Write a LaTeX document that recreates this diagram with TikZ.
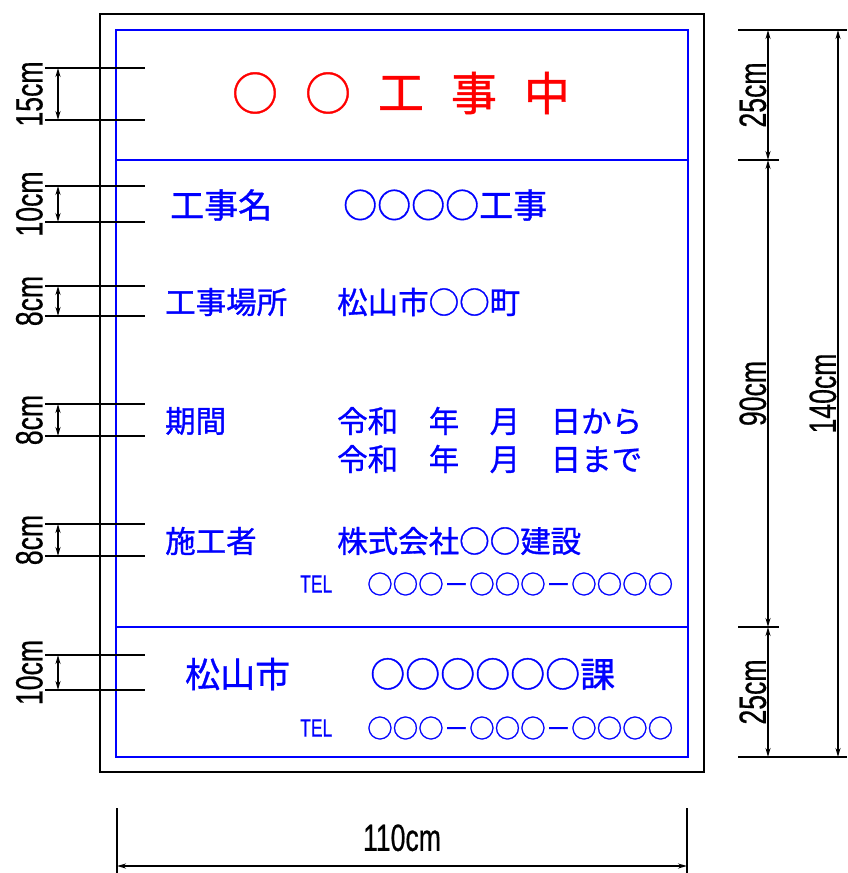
\documentclass[tikz,border=0pt]{standalone}
\usepackage{fontspec}
\usepackage{tikz}
\usetikzlibrary{arrows.meta}
\newfontfamily\jpfont[FakeBold=1]{Noto Sans CJK JP}
\newfontfamily\dimfont[FakeStretch=0.7, FakeBold=0.5]{Liberation Sans}
\tikzstyle{board} = [draw, line width=2pt]
\tikzstyle{panel} = [draw=blue, line width=1.5pt]
\tikzstyle{line} = [draw, line width=1.5pt]
\tikzstyle{dim} = [draw, line width=1.5pt, {Stealth[length=9pt,width=5pt]}-{Stealth[length=9pt,width=5pt]}]
\tikzstyle{dimlabel} = [font={\dimfont\fontsize{38}{38}\selectfont}, rotate=90, inner sep=1pt]
\tikzstyle{title} = [text=red, font={\jpfont\fontsize{46}{46}\selectfont}, inner sep=0pt]
\tikzstyle{signtext} = [text=blue, font=\jpfont, inner sep=0pt, anchor=west]
\tikzstyle{tel} = [text=blue, font={\dimfont\fontsize{25}{25}\selectfont}, inner sep=0pt, anchor=west]

\begin{document}
\begin{tikzpicture}[x=1pt, y=-1pt]
    \useasboundingbox (0,0) rectangle (847,873);
    % Board and panels
    \path [board] (100,14) rectangle (704,772);
    \path [panel] (116,30) rectangle (688,757);
    \path [panel] (116,160) -- (688,160);
    \path [panel] (116,627) -- (688,627);
    % Title
    \foreach \ch [count=\i from 0] in {○,○,工,事,中}
        \node [title] (title\i) at (255+73*\i,93) {\ch};
    % Sign texts
    \node [signtext, font={\jpfont\fontsize{34}{34}\selectfont}] at (170,205) (namekey) {工事名};
    \node [signtext, font={\jpfont\fontsize{34}{34}\selectfont}] at (343,205) (nameval) {○○○○工事};
    \node [signtext, font={\jpfont\fontsize{30.5}{30.5}\selectfont}] at (165,302) (placekey) {工事場所};
    \node [signtext, font={\jpfont\fontsize{30.5}{30.5}\selectfont}] at (337,302) (placeval) {松山市○○町};
    \node [signtext, font={\jpfont\fontsize{30.5}{30.5}\selectfont}] at (165,421) (termkey) {期間};
    \node [signtext, font={\jpfont\fontsize{30.5}{30.5}\selectfont}] at (337,421) (termfrom) {令和　年　月　日から};
    \node [signtext, font={\jpfont\fontsize{30.5}{30.5}\selectfont}] at (337,459) (termto) {令和　年　月　日まで};
    \node [signtext, font={\jpfont\fontsize{30.5}{30.5}\selectfont}] at (165,541) (makerkey) {施工者};
    \node [signtext, font={\jpfont\fontsize{30.5}{30.5}\selectfont}] at (337,541) (makerval) {株式会社○○建設};
    \node [tel] at (300,584) (makertel) {TEL};
    \node [signtext, font={\jpfont\fontsize{25.5}{25.5}\selectfont}] at (367,584) (makernum) {○○○－○○○－○○○○};
    \node [signtext, font={\jpfont\fontsize{35}{35}\selectfont}] at (185,674) (citykey) {松山市};
    \node [signtext, font={\jpfont\fontsize{35}{35}\selectfont}] at (370,674) (cityval) {○○○○○○課};
    \node [tel] at (300,728) (citytel) {TEL};
    \node [signtext, font={\jpfont\fontsize{25.5}{25.5}\selectfont}] at (367,728) (citynum) {○○○－○○○－○○○○};
    % Left dimensions
    \foreach \a/\b/\t/\n in {68/120/15cm/ha, 186/222/10cm/hb, 286/316/8cm/hc,
                             404/436/8cm/hd, 524/556/8cm/he, 655/690/10cm/hf} {
        \coordinate (\n top) at (58,\a);
        \coordinate (\n bot) at (58,\b);
        \path [line] (45,\a) -- (145,\a);
        \path [line] (45,\b) -- (145,\b);
        \path [dim] (\n top) -- (\n bot);
        \node [dimlabel, anchor=south] at (44,{(\a+\b)/2}) (\n label) {\t};
    }
    % Right dimensions
    \coordinate (rtop) at (768,30);
    \coordinate (rup) at (768,160);
    \coordinate (rlow) at (768,627);
    \coordinate (rbot) at (768,757);
    \coordinate (ttop) at (838,30);
    \coordinate (tbot) at (838,757);
    \path [line] (738,30) -- (847,30);
    \path [line] (738,757) -- (847,757);
    \path [line] (738,160) -- (779,160);
    \path [line] (738,627) -- (779,627);
    \path [dim] (rtop) -- node[dimlabel, anchor=south] (topdim) {25cm} (rup);
    \path [dim] (rup) -- node[dimlabel, anchor=south] (middim) {90cm} (rlow);
    \path [dim] (rlow) -- node[dimlabel, anchor=south] (botdim) {25cm} (rbot);
    \path [dim] (ttop) -- node[dimlabel, anchor=south] (alldim) {140cm} (tbot);
    % Bottom dimension
    \coordinate (wleft) at (117,866);
    \coordinate (wright) at (687,866);
    \path [line] (117,808) -- (117,873);
    \path [line] (687,808) -- (687,873);
    \path [dim] (wleft) -- node[above, font={\dimfont\fontsize{38}{38}\selectfont}, inner sep=14pt] (widthdim) {110cm} (wright);
\end{tikzpicture}
\end{document}
